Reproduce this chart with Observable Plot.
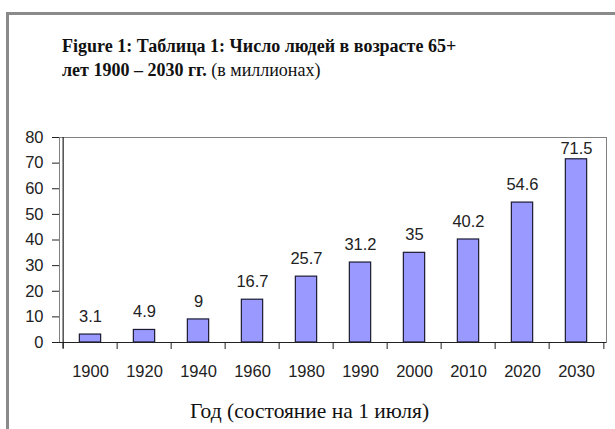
<!DOCTYPE html>
<html>
<head>
<meta charset="utf-8">
<script src="https://cdn.jsdelivr.net/npm/d3@7"></script>
<script src="https://cdn.jsdelivr.net/npm/@observablehq/plot@0.6"></script>
<style>
  html, body { margin: 0; padding: 0; background: #fff; width: 615px; height: 429px; overflow: hidden; }
  .frame { position: absolute; left: 6px; top: 12px; width: 700px; height: 500px;
           border-left: 3px solid #8a8a8a; border-top: 3px solid #8a8a8a; }
  .title { position: absolute; left: 62px; top: 34px; font-family: "Liberation Serif", "Times New Roman", serif;
           font-size: 18px; line-height: 24px; color: #111; white-space: nowrap; }
  .title b { font-weight: bold; }
  #chart { position: absolute; left: 0; top: 120px; }
  .xlabel { position: absolute; left: 190px; top: 401px; font-family: "Liberation Serif", "Times New Roman", serif;
            font-size: 21.5px; line-height: 1; color: #111; white-space: nowrap; }
</style>
</head>
<body>
<div class="frame"></div>
<div class="title"><b>Figure 1: Таблица 1: Число людей в возрасте 65+</b><br><b>лет 1900 – 2030 гг.</b> (в миллионах)</div>
<div id="chart"></div>
<div class="xlabel">Год (состояние на 1 июля)</div>
<script>
const years = ["1900", "1920", "1940", "1960", "1980", "1990", "2000", "2010", "2020", "2030"];
const values = [3.1, 4.9, 9, 16.7, 25.7, 31.2, 35, 40.2, 54.6, 71.5];
const valueLabels = ["3.1", "4.9", "9", "16.7", "25.7", "31.2", "35", "40.2", "54.6", "71.5"];
const yTicks = [0, 10, 20, 30, 40, 50, 60, 70, 80];

const data = years.map((y, i) => ({year: y, value: values[i], label: valueLabels[i]}));

const W = 615, H = 270, ML = 59, MR = 9, MT = 17, MB = 48;
const bw = (W - ML - MR) / years.length;
const barInset = (bw - 22) / 2;
const FS = 16.5;

const chart = Plot.plot({
  width: W, height: H,
  marginLeft: ML, marginRight: MR, marginTop: MT, marginBottom: MB,
  style: {fontFamily: "'Liberation Sans', Arial, sans-serif", fontSize: FS + "px", color: "#222", background: "transparent"},
  x: {domain: years, padding: 0, label: null},
  y: {domain: [0, 80], label: null},
  marks: [
    Plot.frame({stroke: "#808080"}),
    Plot.barY(data, {x: "year", y: "value", fill: "#9999ff", stroke: "#1a1a33", strokeWidth: 1.2, insetLeft: barInset, insetRight: barInset}),
    Plot.ruleY([0], {stroke: "#222", strokeWidth: 1.2}),
    Plot.ruleX([years[0]], {dx: -bw / 2, stroke: "#222", strokeWidth: 1.2, insetBottom: -6}),
    Plot.ruleX(years, {x: d => d, y1: 0, y2: 0, dx: -bw / 2, stroke: "#222", insetBottom: -7}),
    Plot.ruleX([years[years.length - 1]], {x: d => d, y1: 0, y2: 0, dx: bw / 2, stroke: "#222", insetBottom: -7}),
    Plot.axisY({ticks: yTicks, tickSize: 7, tickPadding: 9, stroke: "#222", fontSize: FS}),
    Plot.axisX({tickSize: 0, tickPadding: 23, fontSize: FS}),
    Plot.text(data.filter(d => d.value < 70), {x: "year", y: "value", text: "label", dy: -18, fontSize: FS, fill: "#222"}),
    Plot.text(data.filter(d => d.value >= 70), {x: "year", y: "value", text: "label", dy: -11, fontSize: FS, fill: "#222"})
  ]
});
document.getElementById("chart").appendChild(chart);
</script>
</body>
</html>
